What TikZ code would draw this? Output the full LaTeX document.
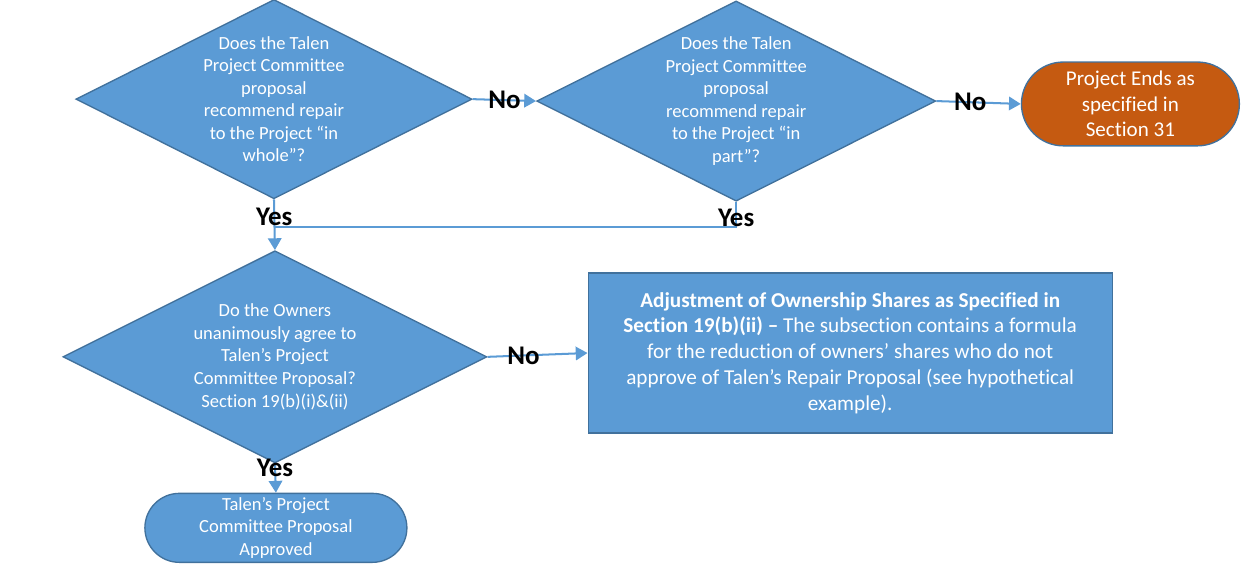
\documentclass[tikz,border=0pt]{standalone}
\usepackage{fontspec}
\setmainfont{Carlito}[Ligatures=NoCommon]
\usepackage{xcolor}
\definecolor{boxblue}{HTML}{5B9BD5}
\definecolor{edgeblue}{HTML}{41719C}
\definecolor{endorange}{HTML}{C55A11}
\usepackage{tikz}
\usetikzlibrary{shapes.geometric,shapes.misc,arrows.meta,positioning}

\begin{document}
\begin{tikzpicture}[
    ask/.style={diamond, aspect=2, draw=edgeblue, fill=boxblue, text=white, inner sep=-1.5pt, line width=0.8pt, align=center, font=\fontsize{11}{13.4}\selectfont},
    term/.style={rounded rectangle, draw=edgeblue, fill=boxblue, text=white, inner sep=0pt, line width=0.8pt, align=center, font=\fontsize{11}{13.4}\selectfont},
    act/.style={rectangle, draw=edgeblue, fill=boxblue, text=white, inner sep=0pt, line width=0.8pt, align=center, font=\fontsize{12.6}{15.3}\selectfont},
    flow/.style={draw=boxblue, line width=1.2pt, -{Triangle[length=7pt,width=8pt]}},
    ans/.style={font=\fontsize{16}{19}\bfseries\selectfont, text=black, inner sep=0pt},
  ]
    \useasboundingbox (0,0) rectangle (25.93,11.88);
    \node[ask, minimum width=8.27cm, minimum height=4.16cm] (whole) at (5.72,9.81) {Does the Talen\\Project Committee\\proposal\\recommend repair\\to the Project “in\\whole”?};
    \node[ask, minimum width=8.33cm, minimum height=4.18cm] (part) at (15.37,9.77) {Does the Talen\\Project Committee\\proposal\\recommend repair\\to the Project “in\\part”?};
    \node[term, fill=endorange, font=\fontsize{12.5}{15.3}\selectfont, minimum width=4.55cm, minimum height=1.75cm] (ends) at (23.6,9.71) {Project Ends as\\specified in\\Section 31};
    \node[ask, minimum width=8.85cm, minimum height=4.43cm] (owners) at (5.74,4.43) {Do the Owners\\unanimously agree to\\Talen’s Project\\Committee Proposal?\\Section 19(b)(i)\&(ii)};
    \node[act, minimum width=10.94cm, minimum height=3.34cm] (adjust) at (17.75,4.51) {\textbf{Adjustment of Ownership Shares as Specified in}\\\textbf{Section 19(b)(ii) –} The subsection contains a formula\\for the reduction of owners’ shares who do not\\approve of Talen’s Repair Proposal (see hypothetical\\example).};
    \node[term, minimum width=5.47cm, minimum height=1.44cm] (approved) at (5.76,0.86) {Talen’s Project\\Committee Proposal\\Approved};
    \coordinate (join) at (5.72,7.14);
    % Connectors
    \draw[flow] (whole.east) -- node[ans] (no1) {No} (part.west);
    \draw[flow] (part.east) -- node[ans, pos=0.4] (no2) {No} (ends.west);
    \draw[flow] (whole.south) -- node[ans, pos=0.35] (yes1) {Yes} (owners.north);
    \draw[draw=boxblue, line width=1.2pt] (part.south) |- node[ans, pos=0.32] (yes2) {Yes} (join);
    \draw[flow] (owners.east) -- node[ans, pos=0.36] (no3) {No} (adjust.west);
    \draw[flow] (owners.south) -- node[ans, pos=0.13] (yes3) {Yes} (approved.north);
  \end{tikzpicture}
\end{document}
